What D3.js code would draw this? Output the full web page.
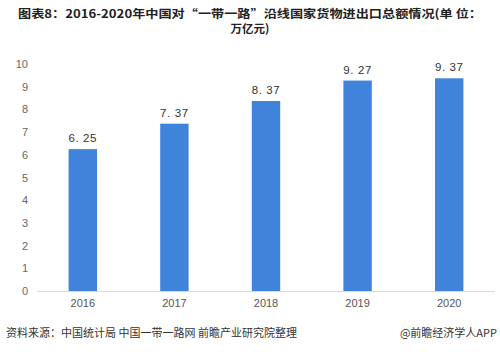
<!DOCTYPE html>
<html><head><meta charset="utf-8">
<script src="https://cdn.jsdelivr.net/npm/d3@7"></script>
<style>
body{margin:0;background:#fff;}
svg{display:block;font-family:"Noto Sans CJK SC","Noto Sans",sans-serif;}
</style></head>
<body><svg id="c" width="500" height="352"></svg>
<script>
const years = ["2016","2017","2018","2019","2020"];
const values = [6.25, 7.37, 8.37, 9.27, 9.37];
const yTicks = [0,1,2,3,4,5,6,7,8,9,10];
const titleLines = ["图表8：2016-2020年中国对“一带一路”沿线国家货物进出口总额情况(单 位：", "万亿元)"];
const sourceText = "资料来源：中国统计局 中国一带一路网 前瞻产业研究院整理";
const creditText = "@前瞻经济学人APP";

const svg = d3.select("#c");
const x = d3.scaleBand().domain(years).range([37, 495]).paddingInner(0.69).paddingOuter(0.345);
const y = d3.scaleLinear().domain([0, 10]).range([291, 64]);

// title
svg.selectAll("text.title").data(titleLines).join("text")
  .attr("class","title")
  .attr("x", 250).attr("y", (d,i)=> 18 + i*14.5)
  .attr("text-anchor","middle")
  .attr("font-size", 11.5).attr("font-weight","bold").attr("fill","#222")
  .each(function(d,i){ if(i===0){ d3.select(this).attr("textLength",464).attr("lengthAdjust","spacingAndGlyphs"); } })
  .text(d=>d);

// y axis labels
const yAxis = d3.axisLeft(y).tickValues(yTicks).tickSize(0).tickPadding(0);
const gy = svg.append("g").attr("transform","translate(28,0)").call(yAxis);
gy.select(".domain").remove();
gy.selectAll("text").attr("font-size",11).attr("fill","#666").attr("font-family","Liberation Sans, Arial, sans-serif");

// x axis
const xAxis = d3.axisBottom(x).tickSize(0).tickPadding(8);
const gx = svg.append("g").attr("transform",`translate(0,${y(0)})`).call(xAxis);
gx.select(".domain").attr("stroke","#d9d9d9").attr("d","M37,0.5H495");
gx.selectAll("text").attr("font-size",11).attr("fill","#555").attr("font-family","Liberation Sans, Arial, sans-serif");

// bars
svg.selectAll("rect.bar").data(values).join("rect")
  .attr("class","bar")
  .attr("x",(d,i)=>x(years[i]))
  .attr("width",x.bandwidth())
  .attr("y",d=>y(d))
  .attr("height",d=>y(0)-y(d))
  .attr("fill","#3f83db");

// value labels
svg.selectAll("text.val").data(values).join("text")
  .attr("class","val")
  .attr("x",(d,i)=>x(years[i])+x.bandwidth()/2)
  .attr("y",d=>y(d)-7)
  .attr("text-anchor","middle")
  .attr("font-size",11.5).attr("fill","#333")
  .attr("letter-spacing",0.6)
  .attr("font-family","Liberation Sans, Arial, sans-serif")
  .text(d=>d.toFixed(2).replace(".", ". "));

// footer
svg.append("text").attr("x",6).attr("y",337).attr("font-size",11).attr("fill","#333").text(sourceText);
svg.append("text").attr("x",497).attr("y",337).attr("text-anchor","end").attr("font-size",11).attr("fill","#333").text(creditText);
</script></body></html>
